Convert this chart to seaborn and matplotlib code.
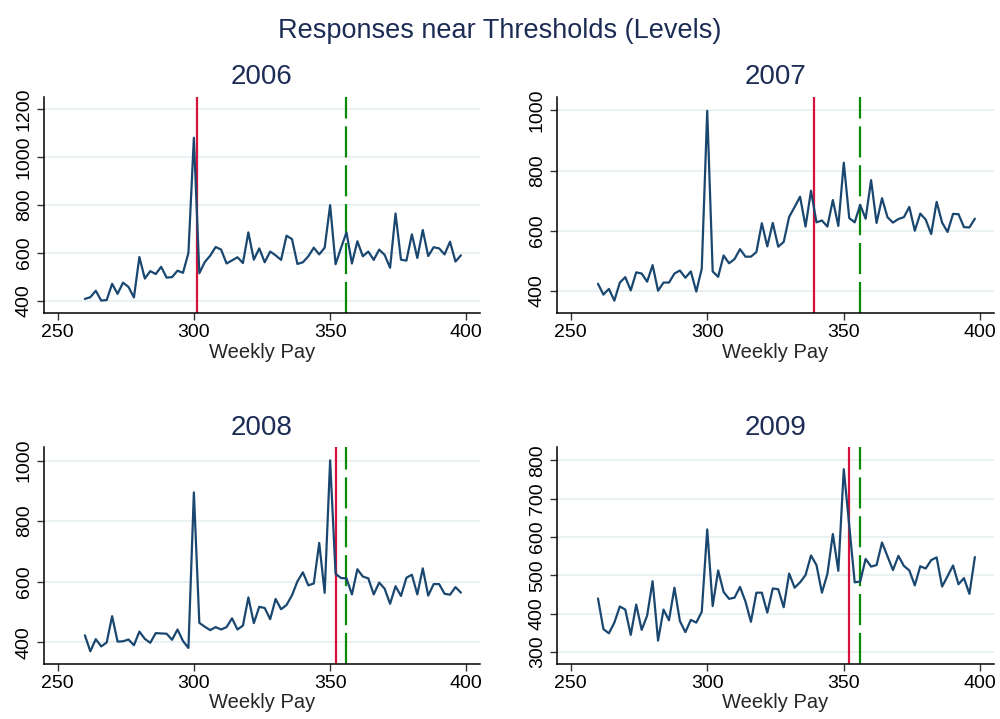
import numpy as np
import pandas as pd
import matplotlib
matplotlib.use("Agg")
import matplotlib.pyplot as plt
import seaborn as sns

# ---- data ----
weekly_pay = list(range(260, 400, 2))

resp_2006 = [408, 415, 442, 401, 403, 471, 429, 476, 458, 414,
             583, 493, 524, 512, 542, 497, 499, 526, 517, 600,
             1082, 515, 562, 589, 625, 614, 556, 569, 582, 558,
             686, 572, 619, 561, 606, 590, 571, 672, 658, 554,
             561, 586, 622, 594, 622, 800, 553, 621, 686, 556,
             649, 586, 606, 571, 614, 592, 538, 765, 572, 568,
             678, 579, 696, 587, 624, 619, 594, 647, 564, 590]

resp_2007 = [424, 388, 407, 368, 428, 446, 402, 462, 458, 431,
             486, 401, 428, 428, 458, 468, 444, 465, 398, 474,
             998, 465, 447, 518, 492, 506, 539, 514, 514, 529,
             625, 548, 626, 547, 563, 646, 679, 713, 614, 733,
             628, 634, 614, 702, 616, 826, 642, 628, 686, 640,
             768, 626, 708, 645, 627, 639, 645, 679, 600, 657,
             637, 589, 696, 627, 596, 656, 655, 612, 611, 640]

resp_2008 = [423, 370, 410, 386, 399, 486, 402, 403, 409, 390,
             435, 411, 398, 430, 429, 428, 408, 442, 404, 381,
             895, 464, 451, 440, 450, 442, 450, 479, 442, 455,
             548, 463, 517, 513, 476, 543, 509, 523, 555, 601,
             631, 588, 594, 728, 563, 1001, 626, 612, 611, 558,
             641, 617, 611, 558, 597, 577, 527, 585, 553, 613,
             623, 558, 644, 554, 592, 592, 560, 557, 582, 564]

resp_2009 = [440, 360, 349, 377, 419, 411, 345, 424, 358, 395,
             485, 330, 411, 383, 468, 381, 352, 384, 377, 405,
             620, 420, 513, 457, 439, 442, 470, 432, 379, 455,
             455, 403, 466, 464, 417, 505, 468, 482, 501, 552,
             527, 455, 504, 608, 512, 777, 630, 482, 484, 543,
             523, 527, 586, 550, 514, 551, 525, 513, 474, 524,
             518, 540, 547, 471, 498, 526, 477, 493, 452, 548]

years = ["2006", "2007", "2008", "2009"]
series = [resp_2006, resp_2007, resp_2008, resp_2009]
red_thresholds = [301, 339, 352, 352]
green_thresholds = [356, 356, 356, 356]
y_ticks = [[400, 600, 800, 1000, 1200],
           [400, 600, 800, 1000],
           [400, 600, 800, 1000],
           [300, 400, 500, 600, 700, 800]]
y_limits = [(349, 1252), (327, 1044), (328, 1045), (269, 835)]
x_ticks = [250, 300, 350, 400]

# ---- style ----
sns.set_style("white")
plt.rcParams["font.family"] = ["Liberation Sans", "DejaVu Sans"]

W, H = 1000, 719
fig = plt.figure(figsize=(W / 100, H / 100), dpi=100)

# axes pixel boxes: left, top, right, bottom
boxes = [(44, 97, 480, 313), (557, 97, 994, 313),
         (44, 447, 480, 664), (557, 447, 994, 664)]

line_color = "#1a476f"
title_color = "#1c2c55"
grid_color = "#e8f0f2"

for i in range(4):
    l, t, r, b = boxes[i]
    ax = fig.add_axes([l / W, 1 - b / H, (r - l) / W, (b - t) / H])
    df = pd.DataFrame({"Weekly Pay": weekly_pay, "Responses": series[i]})
    ax.set_xlim(245, 405)
    ax.set_ylim(*y_limits[i])
    ax.set_yticks(y_ticks[i])
    ax.set_xticks(x_ticks)
    ax.grid(axis="y", color=grid_color, linewidth=1.3, zorder=0)
    ax.set_axisbelow(True)
    ax.axvline(red_thresholds[i], color="#d4123c", linewidth=1.6, zorder=2)
    ax.axvline(green_thresholds[i], color="#0a8a0a", linewidth=1.6,
               dashes=(14, 3.5), zorder=2)
    sns.lineplot(data=df, x="Weekly Pay", y="Responses", ax=ax,
                 color=line_color, linewidth=1.6, zorder=3)
    ax.set_ylabel("")
    ax.set_xlabel("Weekly Pay", fontsize=14.5, labelpad=1)
    ax.set_title(years[i], fontsize=20, color=title_color, pad=9)
    for s in ["top", "right"]:
        ax.spines[s].set_visible(False)
    for s in ["left", "bottom"]:
        ax.spines[s].set_color("black")
        ax.spines[s].set_linewidth(1.1)
    ax.tick_params(axis="both", direction="out", length=5, width=1.0,
                   color="#333333", labelsize=14, labelcolor="black", pad=3)
    ax.tick_params(axis="both", which="both", left=True, bottom=True)
    for lab in ax.get_yticklabels():
        lab.set_rotation(90)
        lab.set_va("center")

fig.suptitle("Responses near Thresholds (Levels)", fontsize=19.5,
             color=title_color, y=0.975)

fig.savefig("out.png", dpi=100, facecolor="white")
